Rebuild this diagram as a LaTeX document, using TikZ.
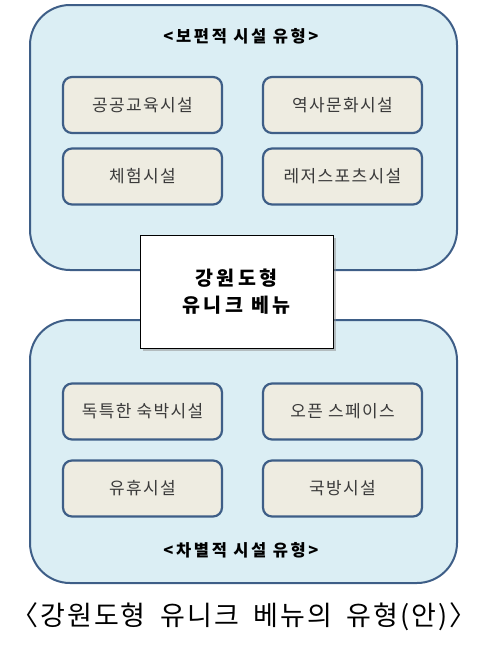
\documentclass[tikz,border=0pt]{standalone}
\usepackage{fontspec}
\setmainfont{Noto Sans CJK KR}
\usetikzlibrary{shadows}
\definecolor{bigfill}{HTML}{DBEEF4}
\definecolor{bigline}{HTML}{3E5E87}
\definecolor{itemfill}{HTML}{EEECE1}
\definecolor{itemtext}{HTML}{3A3A3A}
\begin{document}
\begin{tikzpicture}[x=1pt,y=-1pt,
    groupbox/.style={draw=bigline, fill=bigfill, line width=2pt, rounded corners=40pt},
    itembox/.style={draw=bigline, fill=itemfill, line width=2.2pt, rounded corners=9pt,
      minimum width=159pt, minimum height=56pt, text=itemtext,
      font=\fontsize{17}{18}\selectfont\addfontfeature{LetterSpace=8}},
    grouptitle/.style={font=\bfseries\fontsize{16.5}{16}\selectfont\addfontfeature{LetterSpace=16}},
    menubox/.style={draw=black, fill=white, line width=0.6pt, minimum width=193pt,
      minimum height=113pt, align=center,
      font=\bfseries\fontsize{19.5}{27}\selectfont\addfontfeature{LetterSpace=18},
      drop shadow={shadow xshift=2.5pt, shadow yshift=-2.5pt, fill=black!45}}]
  \useasboundingbox (0,0) rectangle (484,648);
      % 보편적 시설 유형
      \draw[groupbox] (30,5) rectangle (457,270);
      \node[grouptitle] (commontitle) at (241,36) {<보편적 시설 유형>};
      \node[itembox] (public) at (142.5,105) {공공교육시설};
      \node[itembox] (history) at (342.5,105) {역사문화시설};
      \node[itembox] (experience) at (142.5,176.5) {체험시설};
      \node[itembox] (leisure) at (342.5,176.5) {레저스포츠시설};
      % 차별적 시설 유형
      \draw[groupbox] (30,320) rectangle (457,583);
      \node[itembox] (stay) at (142.5,411.5) {독특한 숙박시설};
      \node[itembox] (open) at (342.5,411.5) {오픈 스페이스};
      \node[itembox] (idle) at (142.5,488.5) {유휴시설};
      \node[itembox] (defense) at (342.5,488.5) {국방시설};
      \node[grouptitle] (specialtitle) at (241,550) {<차별적 시설 유형>};
      % 가운데
      \node[menubox] (venue) at (236.5,291.5) {강원도형\\유니크 베뉴};
      \node[inner sep=0pt, font=\fontsize{27}{30}\selectfont\addfontfeature{LetterSpace=7}] (caption) at (244,617)
        {〈강원도형\hspace{0.55em}유니크\hspace{0.55em}베뉴의\hspace{0.55em}유형(안)〉};
    \end{tikzpicture}
\end{document}
